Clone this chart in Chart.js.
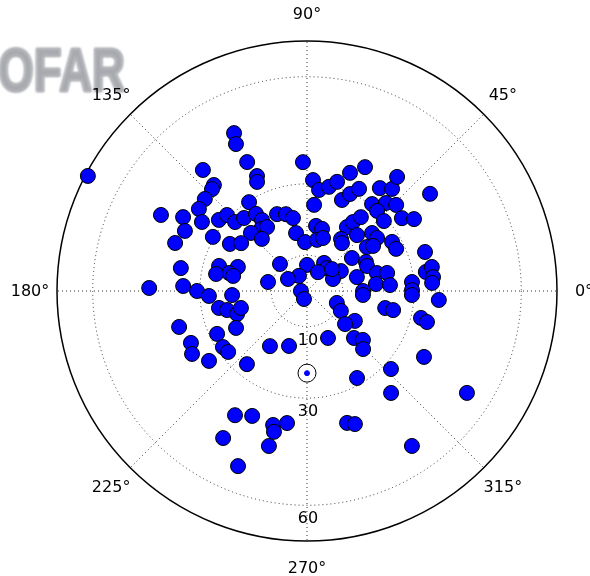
<!DOCTYPE html>
<html><head><meta charset="utf-8">
<script src="https://cdn.jsdelivr.net/npm/chart.js@4"></script>
<style>html,body{margin:0;padding:0;background:#fff}#wrap{width:590px;height:576px;position:relative}</style>
</head><body><div id="wrap"><canvas id="c"></canvas></div>
<script>
// Station positions: azimuth (degrees, counter-clockwise from east) and radial value
const azimuthDeg = [152.3,114.8,115.8,114.9,130.7,113.5,114.6,131.3,133.0,138.0,
123.1,142.8,152.5,149.2,146.7,141.1,136.5,136.2,130.8,123.5,
122.4,111.3,153.8,126.6,134.0,122.0,130.9,150.1,160.0,148.6,
144.0,169.7,164.1,160.8,167.0,169.4,168.5,167.0,135.0,178.9,
177.7,180.0,182.9,183.1,195.7,204.1,208.7,215.5,205.5,213.7,
217.7,190.9,193.4,198.2,194.4,207.5,236.1,230.6,239.9,246.3,
240.3,255.8,256.8,256.2,248.5,261.4,105.3,100.9,91.8,86.9,
83.2,78.1,74.6,70.0,64.9,69.0,66.1,63.0,54.7,50.2,
51.7,38.3,85.3,53.2,48.1,44.0,48.8,42.3,37.5,33.9,
82.1,76.4,100.7,92.3,78.9,73.2,58.0,56.3,53.9,56.8,
53.9,48.2,41.7,37.1,36.3,34.3,30.0,25.3,18.3,36.3,
26.2,22.6,90.0,58.7,49.0,59.9,30.5,24.8,118.1,147.7,
15.6,14.4,12.7,5.8,4.1,0.0,4.9,0.5,9.1,10.9,
6.3,3.7,180.0,249.4,338.2,329.5,355.9,347.7,347.5,357.8,
356.1,346.7,345.5,294.1,315.0,318.8,314.0,328.0,319.0,251.9,
330.6,317.1,299.9,309.5,327.5,286.9,289.8,304.1,41.3];
const radialValue = [69.3,48.7,45.7,39.8,44.7,35.1,33.6,39.5,39.0,38.5,
29.7,38.0,46.1,40.4,35.2,31.7,30.9,27.9,27.0,25.9,
23.5,23.1,38.1,21.6,22.6,21.1,19.3,30.4,39.3,25.3,
22.8,35.9,25.6,20.5,22.4,25.9,21.1,11.2,10.7,44.2,
34.7,30.8,27.5,21.0,37.2,35.6,36.7,33.7,27.9,28.3,
27.9,25.1,23.0,20.6,19.1,22.4,18.6,26.5,40.2,38.2,
47.4,38.7,40.5,44.7,52.7,37.4,22.3,20.8,36.1,31.1,
28.5,29.8,31.7,35.2,38.3,27.3,29.7,32.1,35.3,37.2,
40.7,43.9,24.2,30.4,33.1,34.7,29.8,29.1,33.5,36.1,
18.4,17.9,16.5,13.7,14.6,15.5,21.1,23.2,25.6,17.4,
16.6,21.0,24.4,24.6,20.8,22.4,27.5,27.6,34.8,15.6,
18.4,18.2,7.3,9.2,8.5,6.1,11.0,8.0,4.8,6.3,
14.5,20.2,23.0,19.4,23.3,15.7,29.5,29.4,33.7,35.6,
35.5,35.1,1.7,2.4,9.0,11.0,15.7,22.4,24.7,29.4,
37.0,32.8,34.7,14.4,18.6,20.8,22.6,15.8,14.1,16.2,
37.6,32.1,28.1,37.0,53.1,38.6,39.6,52.4,9.3];
// Reference (marked) position
const markerAzimuth = [270];
const markerRadial = [23];
// Axis ticks
const radialTicks = [10, 30, 60];
const radialMax = 70;
const angleTicks = [0, 45, 90, 135, 180, 225, 270, 315];
const angleTickLabels = ['0°','45°','90°','135°','180°','225°','270°','315°'];

function toXY(az, r){ const a = az*Math.PI/180; return {x: r*Math.cos(a), y: r*Math.sin(a)}; }
const n = Math.min(azimuthDeg.length, radialValue.length);
const stationPts = [];
for (let i=0;i<n;i++) stationPts.push(toXY(azimuthDeg[i], radialValue[i]));
const markerRing = markerAzimuth.map((a,i)=>toXY(a, markerRadial[i]));
const markerDot = markerAzimuth.map((a,i)=>toXY(a, markerRadial[i]));

const polarGrid = {
  id: 'polarGrid',
  beforeDatasetsDraw(chart){
    const ctx = chart.ctx, xs = chart.scales.x, ys = chart.scales.y;
    const cx = xs.getPixelForValue(0), cy = ys.getPixelForValue(0);
    const rp = v => xs.getPixelForValue(v) - cx;
    ctx.save();
    // watermark
    ctx.save();
    ctx.filter = 'blur(0.8px)';
    ctx.fillStyle = '#a8aaaf'; ctx.strokeStyle = '#a8aaaf'; ctx.lineWidth = 2.5; ctx.lineJoin = 'round';
    ctx.font = 'bold 60px "Liberation Sans", Arial, sans-serif';
    ctx.textAlign = 'right'; ctx.textBaseline = 'alphabetic';
    ctx.translate(125, 91); ctx.scale(0.76, 1.02);
    ctx.fillText('LOFAR', 0, 0);
    ctx.strokeText('LOFAR', 0, 0);
    ctx.restore();
    // dotted circles
    ctx.strokeStyle = '#333'; ctx.lineWidth = 1; ctx.setLineDash([1,3]);
    radialTicks.forEach(v => { ctx.beginPath(); ctx.arc(cx, cy, rp(v), 0, Math.PI*2); ctx.stroke(); });
    // spokes
    const R = rp(radialMax);
    angleTicks.forEach(a => {
      const t = a*Math.PI/180;
      ctx.beginPath(); ctx.moveTo(cx, cy); ctx.lineTo(cx + R*Math.cos(t), cy - R*Math.sin(t)); ctx.stroke();
    });
    // outer circle
    ctx.setLineDash([]); ctx.strokeStyle = '#000'; ctx.lineWidth = 1.5;
    ctx.beginPath(); ctx.arc(cx, cy, R, 0, Math.PI*2); ctx.stroke();
    // angle labels
    ctx.fillStyle = '#000'; ctx.font = '16px "DejaVu Sans", sans-serif';
    ctx.textAlign = 'center'; ctx.textBaseline = 'middle';
    angleTicks.forEach((a,i) => {
      const t = a*Math.PI/180, L = R + 27;
      ctx.fillText(angleTickLabels[i], cx + L*Math.cos(t), cy - L*Math.sin(t) + 1);
    });
    // radial labels along 270°
    radialTicks.forEach(v => { ctx.fillText(String(v), cx + 1, cy + rp(v) + 14); });
    ctx.restore();
  }
};

new Chart(document.getElementById('c'), {
  type: 'scatter',
  data: { datasets: [
    { data: markerDot, backgroundColor: '#0000ff', borderColor: '#0000ff', borderWidth: 1, pointRadius: 2.5, pointHoverRadius: 2.5, order: 0 },
    { data: markerRing, backgroundColor: '#ffffff', borderColor: '#000', borderWidth: 1, pointRadius: 9, pointHoverRadius: 9, order: 1 },
    { data: stationPts, backgroundColor: '#0000ff', borderColor: '#000', borderWidth: 1, pointRadius: 7.5, pointHoverRadius: 7.5, order: 2 }
  ]},
  options: {
    responsive: true, maintainAspectRatio: false, animation: false,
    layout: { padding: { left: 57, right: 33, top: 41, bottom: 35 } },
    plugins: { legend: { display: false }, tooltip: { enabled: false } },
    scales: {
      x: { type: 'linear', min: -radialMax, max: radialMax, display: false },
      y: { type: 'linear', min: -radialMax, max: radialMax, display: false }
    },
    elements: { point: { hitRadius: 0 } },
    clip: false
  },
  plugins: [polarGrid]
});
</script>
</body></html>
